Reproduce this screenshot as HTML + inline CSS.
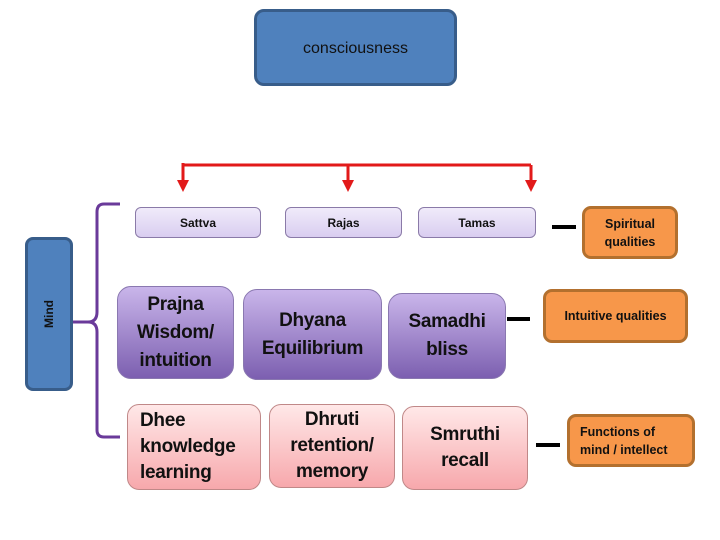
<!DOCTYPE html>
<html><head><style>
body{margin:0;width:720px;height:540px;background:#fff;position:relative;overflow:hidden;font-family:"Liberation Sans",sans-serif;}
.b{position:absolute;box-sizing:border-box;display:flex;align-items:center;justify-content:center;text-align:center;color:#111;font-weight:bold;}
.top{background:linear-gradient(#f0ebfa,#d9cdf0);border:1px solid #8a7aa8;border-radius:6px;font-size:12px;}
.pur{background:linear-gradient(#c9b5ea,#7c5fb0);border:1px solid #8a78b0;border-radius:14px;font-size:19px;line-height:28px;letter-spacing:-0.3px;}
.pink{background:linear-gradient(#ffe8e8,#f7a8ac);border:1px solid #c08888;border-radius:12px;font-size:19px;line-height:26px;letter-spacing:-0.3px;}
.or{background:#f7974a;border:3px solid #b3702e;border-radius:9px;font-size:12.5px;line-height:18px;}
.dash{position:absolute;height:4px;background:#000;}
</style></head><body>
<div class="b" style="left:254px;top:9px;width:203px;height:77px;background:#4f81bd;border:3px solid #385d8a;border-radius:10px;font-weight:normal;font-size:16px;align-items:flex-start;padding-top:28px;">consciousness</div>
<svg style="position:absolute;left:0;top:0" width="720" height="540">
<path d="M183 165 H531 M183 163 V182 M348 165 V182 M531 165 V182" stroke="#e21a1a" stroke-width="3" fill="none"/>
<polygon points="177,180 189,180 183,192" fill="#e21a1a"/>
<polygon points="342,180 354,180 348,192" fill="#e21a1a"/>
<polygon points="525,180 537,180 531,192" fill="#e21a1a"/>
<path d="M120 204 H104 Q97 204 97 212 V312 Q97 322 88 322 Q97 322 97 332 V430 Q97 437 104 437 H120 M72 322 H88" stroke="#6a3a9a" stroke-width="3" fill="none"/>
</svg>
<div class="b" style="left:25px;top:237px;width:48px;height:154px;background:#4f81bd;border:3px solid #385d8a;border-radius:8px;"><span style="transform:rotate(-90deg);font-size:12px;display:block">Mind</span></div>
<div class="b top" style="left:135px;top:207px;width:126px;height:31px;">Sattva</div>
<div class="b top" style="left:285px;top:207px;width:117px;height:31px;">Rajas</div>
<div class="b top" style="left:418px;top:207px;width:118px;height:31px;">Tamas</div>
<div class="dash" style="left:552px;top:225px;width:24px;"></div>
<div class="b or" style="left:582px;top:206px;width:96px;height:53px;">Spiritual<br>qualities</div>
<div class="b pur" style="left:117px;top:286px;width:117px;height:93px;">Prajna<br>Wisdom/<br>intuition</div>
<div class="b pur" style="left:243px;top:289px;width:139px;height:91px;">Dhyana<br>Equilibrium</div>
<div class="b pur" style="left:388px;top:293px;width:118px;height:86px;">Samadhi<br>bliss</div>
<div class="dash" style="left:507px;top:317px;width:23px;"></div>
<div class="b or" style="left:543px;top:289px;width:145px;height:54px;">Intuitive qualities</div>
<div class="b pink" style="left:127px;top:404px;width:134px;height:86px;justify-content:flex-start;text-align:left;padding-left:12px;">Dhee<br>knowledge<br>learning</div>
<div class="b pink" style="left:269px;top:404px;width:126px;height:84px;">Dhruti<br>retention/<br>memory</div>
<div class="b pink" style="left:402px;top:406px;width:126px;height:84px;">Smruthi<br>recall</div>
<div class="dash" style="left:536px;top:443px;width:24px;"></div>
<div class="b or" style="left:567px;top:414px;width:128px;height:53px;justify-content:flex-start;text-align:left;padding-left:10px;">Functions of<br>mind / intellect</div>
</body></html>
